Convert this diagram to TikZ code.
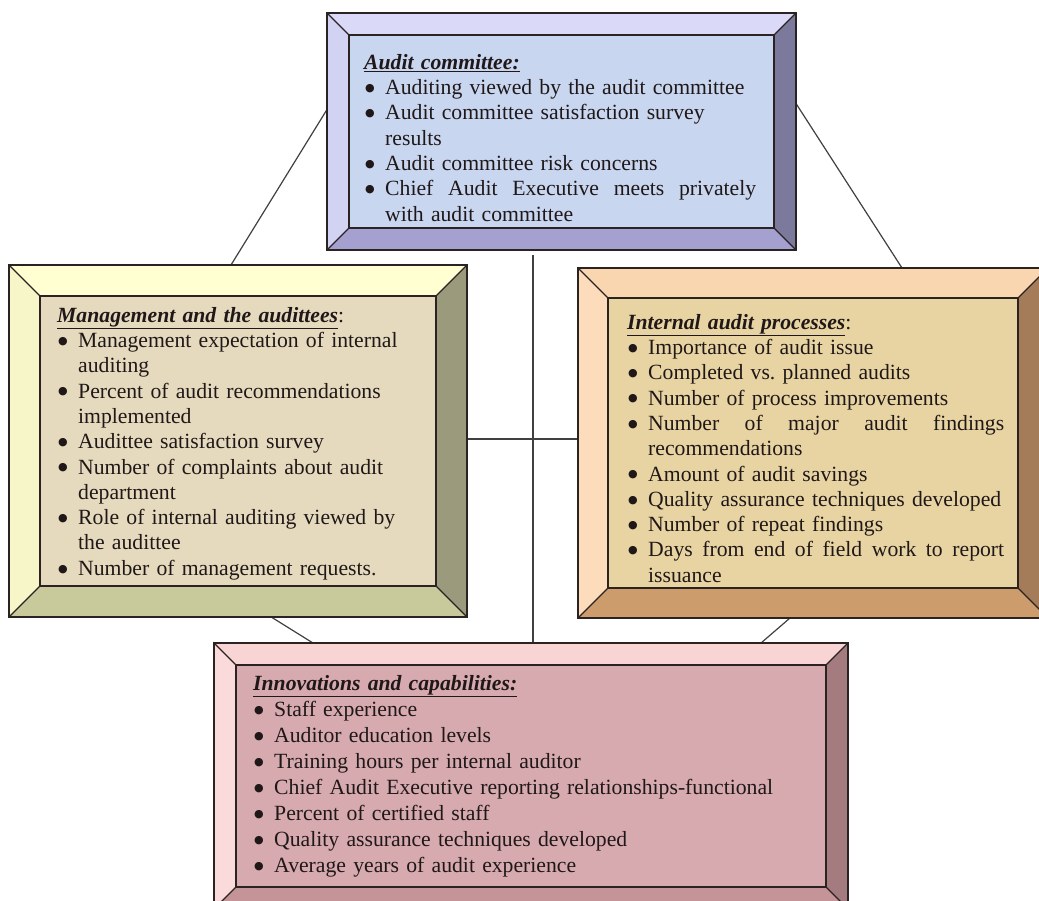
\documentclass[tikz,border=0pt]{standalone}
\usepackage{fontspec}
\setmainfont{Liberation Serif}
\newfontfamily\bulletfont{DejaVu Sans}
\usepackage{tikz}

\definecolor{committeeTop}{HTML}{DADAF8}
\definecolor{committeeLeft}{HTML}{D2D2F2}
\definecolor{committeeRight}{HTML}{7C7A9C}
\definecolor{committeeBase}{HTML}{A4A0D0}
\definecolor{committeeFace}{HTML}{C8D6F0}
\definecolor{managementTop}{HTML}{FFFFD2}
\definecolor{managementLeft}{HTML}{F6F6C8}
\definecolor{managementRight}{HTML}{9C9A7C}
\definecolor{managementBase}{HTML}{C8CA9C}
\definecolor{managementFace}{HTML}{E6DABE}
\definecolor{processesTop}{HTML}{FAD6B0}
\definecolor{processesLeft}{HTML}{FCDCBA}
\definecolor{processesRight}{HTML}{A47C5A}
\definecolor{processesBase}{HTML}{CC9C6C}
\definecolor{processesFace}{HTML}{E8D4A2}
\definecolor{innovationsTop}{HTML}{F9D4D4}
\definecolor{innovationsLeft}{HTML}{FADADA}
\definecolor{innovationsRight}{HTML}{A47C80}
\definecolor{innovationsBase}{HTML}{C49498}
\definecolor{innovationsFace}{HTML}{D6AAAE}
\definecolor{framedark}{HTML}{2B2222}
\definecolor{textdark}{HTML}{201818}

\hyphenpenalty=10000
\newlength\bulletind
\setlength\bulletind{21pt}
\newcommand\bitem[1]{\par\noindent\hangindent=\bulletind\hangafter=1\makebox[\bulletind][l]{\hspace{1pt}\raisebox{3.2pt}{\bulletfont\fontsize{11}{11}\selectfont ●}}#1}
\newcommand\spreadline[2]{\makebox[#1][s]{\spaceskip=0pt\xspaceskip=0pt #2}}
\newcommand\paneltitle[2]{\noindent\underline{\textbf{\textit{#1}}}#2}

\newcommand\bevelpanel[2]{%
  \fill[#1Top] (#1.north west) -- (#1.north east) -- ([shift={(-#2,#2)}]#1.north east) -- ([shift={(#2,#2)}]#1.north west) -- cycle;
  \fill[#1Left] (#1.north west) -- ([shift={(#2,#2)}]#1.north west) -- ([shift={(#2,-#2)}]#1.south west) -- (#1.south west) -- cycle;
  \fill[#1Right] (#1.north east) -- (#1.south east) -- ([shift={(-#2,-#2)}]#1.south east) -- ([shift={(-#2,#2)}]#1.north east) -- cycle;
  \fill[#1Base] (#1.south west) -- ([shift={(#2,-#2)}]#1.south west) -- ([shift={(-#2,-#2)}]#1.south east) -- (#1.south east) -- cycle;
  \fill[#1Face] ([shift={(#2,#2)}]#1.north west) rectangle ([shift={(-#2,-#2)}]#1.south east);
  \draw[frame] (#1.north west) rectangle (#1.south east);
  \draw[frame] ([shift={(#2,#2)}]#1.north west) rectangle ([shift={(-#2,-#2)}]#1.south east);
  \foreach \cx/\cy/\an in {1/1/north west,-1/1/north east,-1/-1/south east,1/-1/south west}
    \draw[frame] (#1.\an) -- ([shift={(\cx*#2,\cy*#2)}]#1.\an);
}

\begin{document}
\begin{tikzpicture}[x=1pt, y=-1pt,
    panel/.style={rectangle, inner sep=0pt, outer sep=0pt},
    frame/.style={draw=framedark, line width=1.3pt, line join=miter},
    link/.style={draw=black!75, line width=1.2pt},
    paneltext/.style={anchor=north west, inner sep=0pt, align=left, text=textdark,
      font=\fontsize{21.7}{25.3}\selectfont}]
  \useasboundingbox (0,0) rectangle (1039,900);
  \clip (0,0) rectangle (1039,900);
  \fill[white] (0,0) rectangle (1039,900);

  \node[panel, minimum width=469pt, minimum height=237pt] (committee) at (561.5,131.5) {};
  \node[panel, minimum width=458pt, minimum height=352pt] (management) at (238,441) {};
  \node[panel, minimum width=470pt, minimum height=350pt] (processes) at (813,443) {};
  \node[panel, minimum width=634pt, minimum height=266pt] (innovations) at (531,776) {};

  \draw[link] ([shift={(0,-22)}]committee.west) -- ([shift={(-7,0)}]management.north);
  \draw[link] ([shift={(0,-28)}]committee.east) -- ([shift={(89,0)}]processes.north);
  \draw[link] ([shift={(2,5)}]innovations.north |- committee.south) -- ([shift={(2,4)}]innovations.north);
  \draw[link] ([shift={(0,-2)}]management.east) -- ([shift={(0,-2)}]management.east -| processes.west);
  \draw[link] ([shift={(30,-2)}]management.south) -- ([shift={(-218,0)}]innovations.north);
  \draw[link] ([shift={(-23,0)}]processes.south) -- ([shift={(230,0)}]innovations.north);

  \bevelpanel{committee}{22}
  \bevelpanel{management}{31}
  \bevelpanel{processes}{30}
  \bevelpanel{innovations}{22}

  \node[paneltext, text width=393pt] (committee text) at ([shift={(37,41)}]committee.north west) {%
    \paneltitle{Audit committee:}{}
    \bitem{Auditing viewed by the audit committee}
    \bitem{Audit committee satisfaction survey\newline results}
    \bitem{Audit committee risk concerns}
    \bitem{\spreadline{371pt}{Chief Audit Executive meets privately}\newline with audit committee}\par};

  \node[paneltext, text width=375pt] (management text) at ([shift={(48,42)}]management.north west) {%
    \paneltitle{Management and the audittees}{:}
    \bitem{Management expectation of internal\newline auditing}
    \bitem{Percent of audit recommendations\newline implemented}
    \bitem{Audittee satisfaction survey}
    \bitem{Number of complaints about audit\newline department}
    \bitem{Role of internal auditing viewed by\newline the audittee}
    \bitem{Number of management requests.}\par};

  \node[paneltext, text width=384pt] (processes text) at ([shift={(49,46)}]processes.north west) {%
    \paneltitle{Internal audit processes}{:}
    \bitem{Importance of audit issue}
    \bitem{Completed vs.\ planned audits}
    \bitem{Number of process improvements}
    \bitem{\spreadline{356pt}{Number of major audit findings}\newline recommendations}
    \bitem{Amount of audit savings}
    \bitem{Quality assurance techniques developed}
    \bitem{Number of repeat findings}
    \bitem{\spreadline{356pt}{Days from end of field work to report}\newline issuance}\par};

  \node[paneltext, text width=570pt, font=\fontsize{21.7}{26.1}\selectfont] (innovations text) at ([shift={(39,32)}]innovations.north west) {%
    \paneltitle{Innovations and capabilities:}{}
    \bitem{Staff experience}
    \bitem{Auditor education levels}
    \bitem{Training hours per internal auditor}
    \bitem{Chief Audit Executive reporting relationships-functional}
    \bitem{Percent of certified staff}
    \bitem{Quality assurance techniques developed}
    \bitem{Average years of audit experience}\par};
\end{tikzpicture}
\end{document}
